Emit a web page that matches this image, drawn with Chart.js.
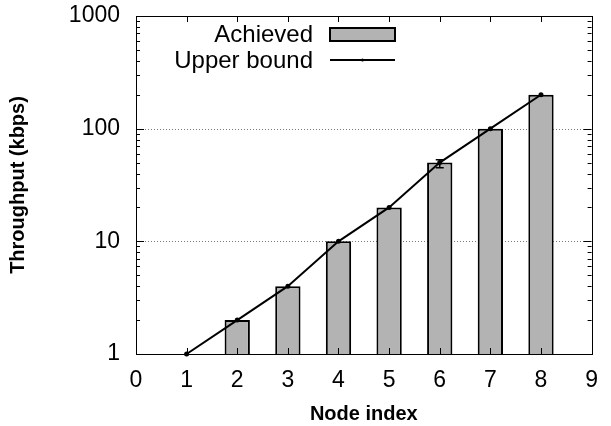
<!DOCTYPE html>
<html>
<head>
<meta charset="utf-8">
<script src="https://cdn.jsdelivr.net/npm/chart.js@4.4.1/dist/chart.umd.min.js"></script>
<style>
  html, body { margin: 0; padding: 0; background: #fff; }
  #wrap { width: 611px; height: 426px; }
</style>
</head>
<body>
<div id="wrap"><canvas id="chart" width="611" height="426"></canvas></div>
<script>
const nodeIndex = [2, 3, 4, 5, 6, 7, 8];
const achieved = [2, 4, 10, 20, 50, 100, 200];
const errLow = [null, null, null, null, 45, null, null];
const errHigh = [null, null, null, null, 53, null, null];
const boundIndex = [1, 2, 3, 4, 5, 6, 7, 8];
const upperBound = [1, 2, 4, 10, 20, 50, 100, 200];
const xTicks = [0, 1, 2, 3, 4, 5, 6, 7, 8, 9];
const yTicks = [1, 10, 100, 1000];

const FONT = "'Liberation Sans', Arial, Helvetica, sans-serif";

const framePlugin = {
    id: 'frame',
    beforeDatasetsDraw(chart) {
        const { ctx, chartArea: a, scales: { y } } = chart;
        ctx.save();
        ctx.strokeStyle = '#777';
        ctx.lineWidth = 1;
        ctx.setLineDash([1, 2]);
        [10, 100].forEach(v => {
            const py = Math.round(y.getPixelForValue(v)) + 0.5;
            ctx.beginPath();
            ctx.moveTo(a.left, py);
            ctx.lineTo(a.right, py);
            ctx.stroke();
        });
        ctx.restore();
    },
    afterDatasetsDraw(chart) {
        const { ctx, chartArea: a, scales: { x, y } } = chart;
        ctx.save();
        ctx.strokeStyle = '#000';

        // error bars
        ctx.lineWidth = 1.5;
        nodeIndex.forEach((n, i) => {
            if (errLow[i] == null) return;
            const px = x.getPixelForValue(n);
            const p1 = y.getPixelForValue(errLow[i]);
            const p2 = y.getPixelForValue(errHigh[i]);
            ctx.beginPath();
            ctx.moveTo(px, p1); ctx.lineTo(px, p2);
            ctx.moveTo(px - 4, p1); ctx.lineTo(px + 4, p1);
            ctx.moveTo(px - 4, p2); ctx.lineTo(px + 4, p2);
            ctx.stroke();
        });

        // ticks
        ctx.lineWidth = 1;
        ctx.beginPath();
        xTicks.slice(1, -1).forEach(t => {
            const px = Math.round(x.getPixelForValue(t)) + 0.5;
            ctx.moveTo(px, a.bottom); ctx.lineTo(px, a.bottom - 6);
            ctx.moveTo(px, a.top); ctx.lineTo(px, a.top + 6);
        });
        for (let d = 1; d < 1000; d *= 10) {
            for (let m = 1; m <= 9; m++) {
                const v = d * m;
                if (v === 1) continue;
                const len = m === 1 ? 8 : 4;
                const py = Math.round(y.getPixelForValue(v)) + 0.5;
                ctx.moveTo(a.left, py); ctx.lineTo(a.left + len, py);
                ctx.moveTo(a.right, py); ctx.lineTo(a.right - len, py);
            }
        }
        ctx.stroke();

        // border
        ctx.strokeRect(Math.round(a.left) + 0.5, Math.round(a.top) + 0.5,
            Math.round(a.right - a.left), Math.round(a.bottom - a.top));

        // legend
        ctx.fillStyle = '#000';
        ctx.font = '24px ' + FONT;
        ctx.textAlign = 'right';
        ctx.textBaseline = 'middle';
        ctx.fillText('Achieved', 313, 35);
        ctx.fillText('Upper bound', 313, 61);
        ctx.fillStyle = '#b3b3b3';
        ctx.fillRect(330, 28, 65, 13);
        ctx.lineWidth = 2;
        ctx.strokeRect(330, 28, 65, 13);
        ctx.beginPath();
        ctx.moveTo(330, 60); ctx.lineTo(395, 60);
        ctx.stroke();
        ctx.fillStyle = '#000';
        ctx.beginPath();
        ctx.arc(362.5, 60, 1.5, 0, Math.PI * 2);
        ctx.fill();
        ctx.restore();
    }
};

new Chart(document.getElementById('chart'), {
    type: 'bar',
    data: {
        datasets: [
            {
                type: 'line',
                label: 'Upper bound',
                data: boundIndex.map((n, i) => ({ x: n, y: upperBound[i] })),
                borderColor: '#000',
                backgroundColor: '#000',
                borderWidth: 2,
                pointRadius: 1.5,
                tension: 0,
                order: 0,
                clip: false
            },
            {
                label: 'Achieved',
                data: nodeIndex.map((n, i) => ({ x: n, y: achieved[i] })),
                backgroundColor: '#b3b3b3',
                borderColor: '#000',
                borderWidth: 2,
                barPercentage: 0.5,
                categoryPercentage: 1,
                order: 1
            }
        ]
    },
    options: {
        responsive: false,
        animation: false,
        layout: { padding: { top: 16, right: 18, left: 0, bottom: 0 } },
        plugins: {
            legend: { display: false },
            tooltip: { enabled: false }
        },
        scales: {
            x: {
                type: 'linear',
                min: 0,
                max: 9,
                offset: false,
                afterBuildTicks: (s) => { s.ticks = xTicks.map(v => ({ value: v })); },
                afterFit: (s) => { s.height = 72; },
                grid: { display: false, drawTicks: false, offset: false },
                border: { display: false },
                ticks: { color: '#000', font: { family: FONT, size: 23 }, padding: 13, maxRotation: 0 },
                title: { display: true, text: 'Node index', color: '#000',
                    font: { family: FONT, size: 20, weight: 'bold' }, padding: { top: 0, bottom: 0 } }
            },
            y: {
                type: 'logarithmic',
                min: 1,
                max: 1000,
                afterBuildTicks: (s) => { s.ticks = yTicks.map(v => ({ value: v })); },
                afterFit: (s) => { s.width = 136; s.paddingTop = 0; s.paddingBottom = 0; },
                grid: { display: false, drawTicks: false },
                border: { display: false },
                ticks: { color: '#000', font: { family: FONT, size: 23 }, padding: 16,
                    callback: (v) => String(v) },
                title: { display: true, text: 'Throughput (kbps)', color: '#000',
                    font: { family: FONT, size: 20, weight: 'bold' }, padding: { top: 6, bottom: 0 } }
            }
        }
    },
    plugins: [framePlugin]
});
</script>
</body>
</html>
